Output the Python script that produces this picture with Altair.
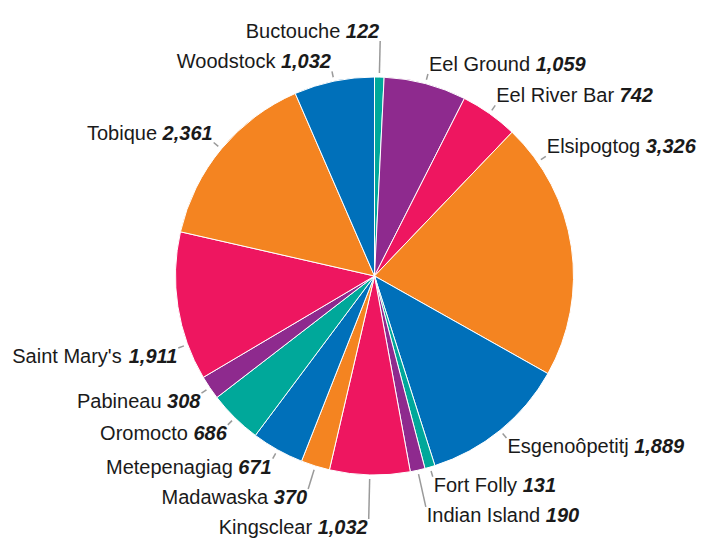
import math
import altair as alt
import pandas as pd

# ---- data ----
names = ["Buctouche", "Eel Ground", "Eel River Bar", "Elsipogtog", "Esgenoôpetitj",
         "Fort Folly", "Indian Island", "Kingsclear", "Madawaska", "Metepenagiag",
         "Oromocto", "Pabineau", "Saint Mary's", "Tobique", "Woodstock"]
values = [122, 1059, 742, 3326, 1889, 131, 190, 1032, 370, 671, 686, 308, 1911, 2361, 1032]
palette = ["#00a89a", "#8e2a8e", "#ee1660", "#f48421", "#0070ba"]

# ---- layout / style ----
W, H = 692, 532
CX, CY = 366.5, 268.0
R = 199
R_LINE0 = 203
R_LABEL = 209
FONT = "Liberation Sans"
FS = 20
BOX_H = 26
PAD = 4
EDGE = 3

ARIAL = {" ": 278, "'": 191, ",": 278, "A": 667, "B": 667, "C": 722, "D": 722, "E": 667,
         "F": 611, "G": 778, "H": 722, "I": 278, "J": 500, "K": 667, "L": 556, "M": 833,
         "N": 722, "O": 778, "P": 667, "Q": 778, "R": 722, "S": 667, "T": 611, "U": 722,
         "V": 667, "W": 944, "a": 556, "b": 556, "c": 500, "d": 556, "e": 556, "f": 278,
         "g": 556, "h": 556, "i": 222, "j": 222, "k": 500, "l": 222, "m": 833, "n": 556,
         "o": 556, "ô": 556, "p": 556, "q": 556, "r": 333, "s": 500, "t": 278, "u": 556,
         "v": 500, "w": 722, "x": 500, "y": 500, "z": 500}


def text_width(s):
    return sum(ARIAL.get(ch, 556) for ch in s) * FS / 1000.0


total = sum(values)
rows = []
cum = 0
for i, (n, v) in enumerate(zip(names, values)):
    a = 2 * math.pi * (cum + v / 2.0) / total
    cum += v
    lab = f"{v:,}"
    rows.append(dict(idx=i, name=n, value=v, label=lab, mid=a,
                     side="right" if math.sin(a) > 0.03 else "left",
                     wn=text_width(n), wv=text_width(lab), wsp=text_width(" "),
                     color=palette[i % len(palette)]))


def box(r, a, d):
    s, c = math.sin(a), math.cos(a)
    ax, ay = r * s, -r * c
    w = d["wn"] + d["wsp"] + d["wv"] + 2
    x0, x1 = (ax, ax + w) if d["side"] == "right" else (ax - w, ax)
    y0, y1 = (ay - BOX_H, ay) if c > 0 else (ay, ay + BOX_H)
    return (x0, x1, y0, y1)


def inside(b):
    return b[0] >= -CX + EDGE and b[1] <= W - CX - EDGE


def overlap(a, b):
    return a[0] < b[1] and b[0] < a[1] and a[2] < b[3] + PAD and b[2] < a[3] + PAD


# keep each label inside the chart: slide it along the circle as little as needed
step = math.radians(0.25)
for d in rows:
    d["a"] = d["mid"]
    for k in range(0, 720):
        found = False
        for sign in (1, -1):
            a = d["mid"] + sign * k * step
            if inside(box(R_LABEL, a, d)):
                d["a"] = a
                found = True
                break
        if found:
            break

# resolve collisions by pushing labels outwards
placed = []
for d in sorted(rows, key=lambda d: abs(math.cos(d["a"]))):
    r = R_LABEL
    while any(overlap(box(r, d["a"], d), b) for b in placed) and r < 330:
        r += 0.5
    d["r"] = r
    placed.append(box(r, d["a"], d))

for d in rows:
    s, c = math.sin(d["a"]), math.cos(d["a"])
    ax, ay = d["r"] * s, -d["r"] * c
    d["lx0"], d["ly0"] = R_LINE0 * s, -R_LINE0 * c
    d["lx1"], d["ly1"] = ax, ay
    tx = ax + 1 if d["side"] == "right" else ax - 1
    d["ty"] = ay - 3 if c > 0 else ay + 15
    if d["side"] == "right":
        d["name_x"] = tx
        d["value_x"] = tx + d["wn"] + d["wsp"]
    else:
        d["value_x"] = tx
        d["name_x"] = tx - d["wv"] - d["wsp"]

df = pd.DataFrame(rows)

xs = alt.Scale(domain=[-CX, W - CX], nice=False, zero=False)
ys = alt.Scale(domain=[-CY, H - CY], nice=False, zero=False, reverse=True)

base = alt.Chart(df)

pie = base.mark_arc(outerRadius=R, stroke="white", strokeWidth=1).encode(
    theta=alt.Theta("value:Q", stack=True),
    order=alt.Order("idx:Q"),
    color=alt.Color("name:N", scale=alt.Scale(domain=names, range=[d["color"] for d in rows]),
                    legend=None),
    x=alt.value(CX),
    y=alt.value(CY),
)

lines = base.mark_rule(color="#9a9a9a", strokeWidth=1.5).encode(
    x=alt.X("lx0:Q", scale=xs, axis=None),
    y=alt.Y("ly0:Q", scale=ys, axis=None),
    x2="lx1:Q",
    y2="ly1:Q",
)


def text_layer(side, part):
    align = "left" if side == "right" else "right"
    kw = dict(font=FONT, fontSize=FS, color="#1a1a1a", align=align, baseline="alphabetic")
    if part == "value":
        kw.update(fontWeight="bold", fontStyle="italic")
    return base.transform_filter(alt.datum.side == side).mark_text(**kw).encode(
        x=alt.X(f"{part}_x:Q", scale=xs, axis=None),
        y=alt.Y("ty:Q", scale=ys, axis=None),
        text=alt.Text("name:N" if part == "name" else "label:N"),
    )


chart = alt.layer(
    pie, lines,
    text_layer("right", "name"), text_layer("right", "value"),
    text_layer("left", "name"), text_layer("left", "value"),
).properties(width=W, height=H, padding=0, autosize="none").configure_view(stroke=None)

chart.save("out.html", embed_options={"renderer": "svg", "actions": False})
